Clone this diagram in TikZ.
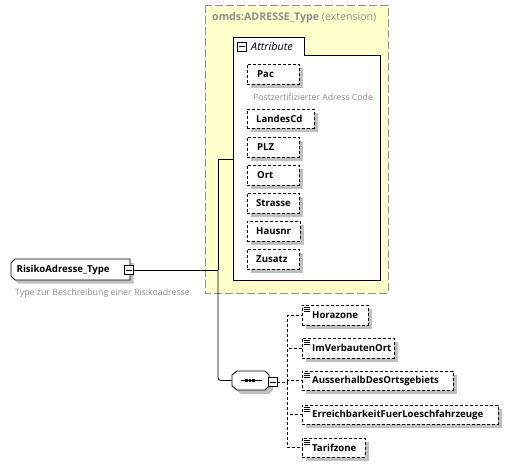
\documentclass[tikz,border=0pt]{standalone}
\usepackage{fontspec}
\setmainfont{Open Sans}
\usetikzlibrary{shadows}
\definecolor{shadowgray}{HTML}{C0C0C0}
\definecolor{descgray}{HTML}{8C8C8C}
\definecolor{extfill}{HTML}{FFFFCC}
\definecolor{extborder}{HTML}{909090}
\begin{document}
\begin{tikzpicture}[x=1pt,y=-1pt,
  lbl/.style={font=\bfseries\fontsize{9.6}{12}\selectfont},
  elem/.style={lbl, draw, dash pattern=on 3pt off 2pt, fill=white, minimum height=20pt, inner ysep=0pt, inner xsep=0pt,
    anchor=north west, align=left,
    drop shadow={shadow xshift=3.5pt, shadow yshift=-3.5pt, fill=shadowgray, opacity=1}},
  celem/.style={elem, minimum height=20pt},
  desc/.style={font=\fontsize{8.8}{10}\selectfont, text=descgray, inner sep=0pt, anchor=west},
  minusbox/.style={draw, fill=white, minimum width=9pt, minimum height=9pt, inner sep=0pt, line width=0.8pt,
    path picture={\draw[line width=0.8pt] ([xshift=1.5pt]path picture bounding box.west) -- ([xshift=-1.5pt]path picture bounding box.east);}},
  conn/.style={line width=0.8pt},
  dconn/.style={line width=0.7pt, dash pattern=on 3pt off 2pt},
  opticon/.style={line width=0.5pt}
]
\useasboundingbox (0,0) rectangle (528,467);

% extension box
\draw[extborder, fill=extfill, line width=0.9pt, dash pattern=on 8pt off 3pt] (205,5) rectangle (388,293);
\node[anchor=west, inner sep=0pt, text=descgray, font=\fontsize{10.6}{12}\selectfont] (exttitle) at (212,18) {\textbf{omds:ADRESSE\_Type} (extension)};

% attribute group box
\draw[fill=white, line width=0.8pt] (233,280) -- (233,37) -- (304,37) -- (304,55) -- (380,55) -- (380,280) -- cycle;
\node[minusbox] (attrminus) at (242,46.5) {};
\node[anchor=west, inner sep=0pt, font=\itshape\fontsize{10.8}{12}\selectfont] (attrlabel) at (251,46.5) {Attribute};
\coordinate (attrin) at (233,159);

% attributes
\node[elem, text width=52pt] (pac) at (247,64) {\mbox{\hspace*{10pt}Pac}};
\node[desc, font=\fontsize{8.7}{10}\selectfont] (pacdesc) at (253,97.5) {Postzertifizierter Adress Code};
\node[elem, text width=67pt, minimum height=19pt] (landes) at (247,109) {\mbox{\hspace*{9pt}LandesCd}};
\node[elem, text width=52pt] (plz) at (247,137) {\mbox{\hspace*{10pt}PLZ}};
\node[elem, text width=52pt] (ort) at (247,165) {\mbox{\hspace*{10pt}Ort}};
\node[elem, text width=52pt] (strasse) at (247,193) {\mbox{\hspace*{9pt}Strasse}};
\node[elem, text width=53pt] (hausnr) at (247,221) {\mbox{\hspace*{9pt}Hausnr}};
\node[elem, text width=52pt] (zusatz) at (247,249) {\mbox{\hspace*{9pt}Zusatz}};

% root
\fill[shadowgray] (18.5,262.5) -- (133.5,262.5) -- (133.5,283.5) -- (18.5,283.5) -- (14.5,279.5) -- (14.5,266.5) -- cycle;
\draw[fill=white, line width=0.8pt] (15,259) -- (130,259) -- (130,280) -- (15,280) -- (11,276) -- (11,263) -- cycle;
\node[lbl, anchor=west, inner sep=0pt, font=\bfseries\fontsize{9.6}{12}\selectfont] (root) at (16.5,269.5) {RisikoAdresse\_Type};
\node[minusbox] (rootminus) at (128.5,270) {};
\node[desc] (rootdesc) at (15,293) {Type zur Beschreibung einer Risikoadresse};

% sequence
\fill[shadowgray] (241,375) -- (269,375) -- (273,379) -- (273,390) -- (269,394) -- (241,394) -- (236,390) -- (236,379) -- cycle;
\draw[fill=white, line width=0.8pt] (237,371) -- (265,371) -- (269,375) -- (269,386) -- (265,390) -- (237,390) -- (232,386) -- (232,375) -- cycle;
\node[minimum width=37pt, minimum height=19pt, inner sep=0pt] (seq) at (250.5,380.5) {};
\draw[line width=0.8pt] (241,380.5) -- (262,380.5);
\foreach \dx in {246.5,250,253.5} \fill (\dx-1.3,379.2) rectangle (\dx+1.3,381.8);
\node[minusbox] (seqminus) at (272.5,382) {};

% solid connectors
\coordinate (j) at (218,270);
\draw[conn] (rootminus.east) -- (j);
\draw[conn] (attrin) -| (j);
\draw[conn, rounded corners=3pt] (j) |- (seq.west);

% choice children
\node[celem, text width=66pt] (hora) at (302,305) {\mbox{\hspace*{10pt}Horazone}};
\node[celem, text width=92pt] (imv) at (302,338) {\mbox{\hspace*{10pt}ImVerbautenOrt}};
\node[celem, text width=151pt, minimum height=19pt] (aus) at (302,371) {\mbox{\hspace*{10pt}AusserhalbDesOrtsgebiets}};
\node[celem, text width=196pt, minimum height=19pt] (err) at (302,405) {\mbox{\hspace*{10pt}ErreichbarkeitFuerLoeschfahrzeuge}};
\node[celem, text width=63pt, minimum height=19pt] (tarif) at (302,438) {\mbox{\hspace*{10pt}Tarifzone}};

\foreach \n in {hora,imv,aus,err,tarif} {
  \draw[dconn] (seqminus.east) -- ++(10,0) |- (\n.west);
  \foreach \dy in {2.5,4.5,6.5} \draw[opticon] ([shift={(2,\dy)}]\n.north west) -- ++(6,0);
}
\end{tikzpicture}
\end{document}
